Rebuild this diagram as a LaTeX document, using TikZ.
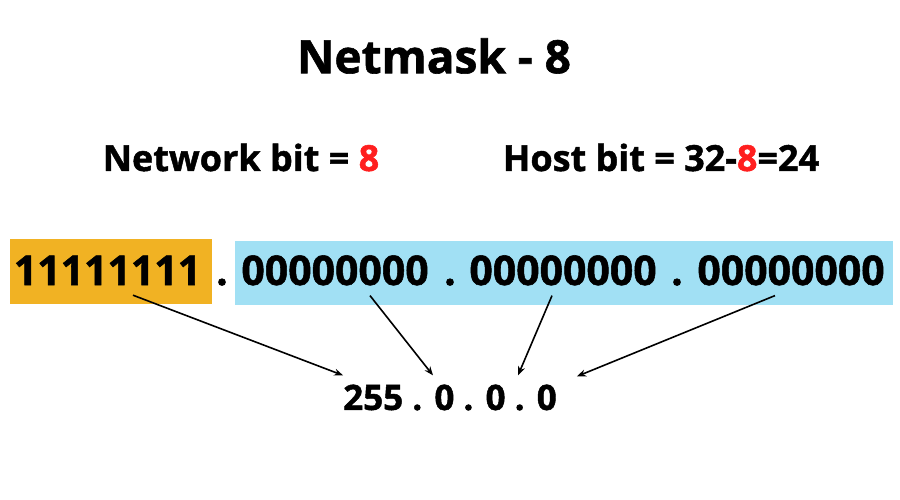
\documentclass[tikz,border=0pt]{standalone}
\usepackage{fontspec}
\setmainfont{Open Sans}[BoldFeatures={FakeBold=1.3}]
\usepackage{xcolor}
\usetikzlibrary{arrows.meta,positioning,calc}
\definecolor{netorange}{HTML}{F1B223}
\definecolor{hostblue}{HTML}{A1E0F4}
\definecolor{bitred}{HTML}{FF1F1F}

\begin{document}
\begin{tikzpicture}[x=1pt,y=-1pt,inner sep=0pt,
    every node/.style={font=\bfseries},
    title/.style={font=\bfseries\fontsize{46}{52}\selectfont},
    label/.style={font=\bfseries\fontsize{36}{40}\selectfont},
    byte/.style={font=\bfseries\fontsize{41}{46}\selectfont,anchor=base},
    mask/.style={font=\bfseries\fontsize{35}{40}\selectfont},
    link/.style={-{Stealth[length=9pt,width=7pt]},line width=1.6pt}]
   \useasboundingbox (0,0) rectangle (900,500);
   % coloured bytes
   \fill[netorange] (10,239) rectangle (212,304);
   \fill[hostblue] (235,241) rectangle (893,305);
   \node[title] (T) at (434,56) {Netmask - 8};
   \node[label] (N) at (241,157.5) {Network bit = {\color{bitred}8}};
   \node[label] (H) at (661,157.5) {Host bit = 32-{\color{bitred}8}=24};
   \node[byte] (b1) at (107.5,285) {11111111};
   \node[byte] (d1) at (222,285) {.};
   \node[byte] (b2) at (335,285) {00000000};
   \node[byte] (d2) at (450,285) {.};
   \node[byte] (b3) at (563,285) {00000000};
   \node[byte] (d3) at (677,285) {.};
   \node[byte] (b4) at (791,285) {00000000};
   \node[mask] (M) at (450,397.5) {255 . 0 . 0 . 0};
    \draw[link] ($(b1.south)+(25.5,10)$) -- ($(M.north west)+(0,-9)$);
    \draw[link] ($(b2.south)+(35,10)$) -- ($(M.north)+(-17,-9)$);
    \draw[link] ($(b3.south)+(-11,10)$) -- ($(M.north)+(68,-9)$);
    \draw[link] ($(b4.south)+(-16,10)$) -- ($(M.north east)+(20,-8)$);
\end{tikzpicture}
\end{document}
